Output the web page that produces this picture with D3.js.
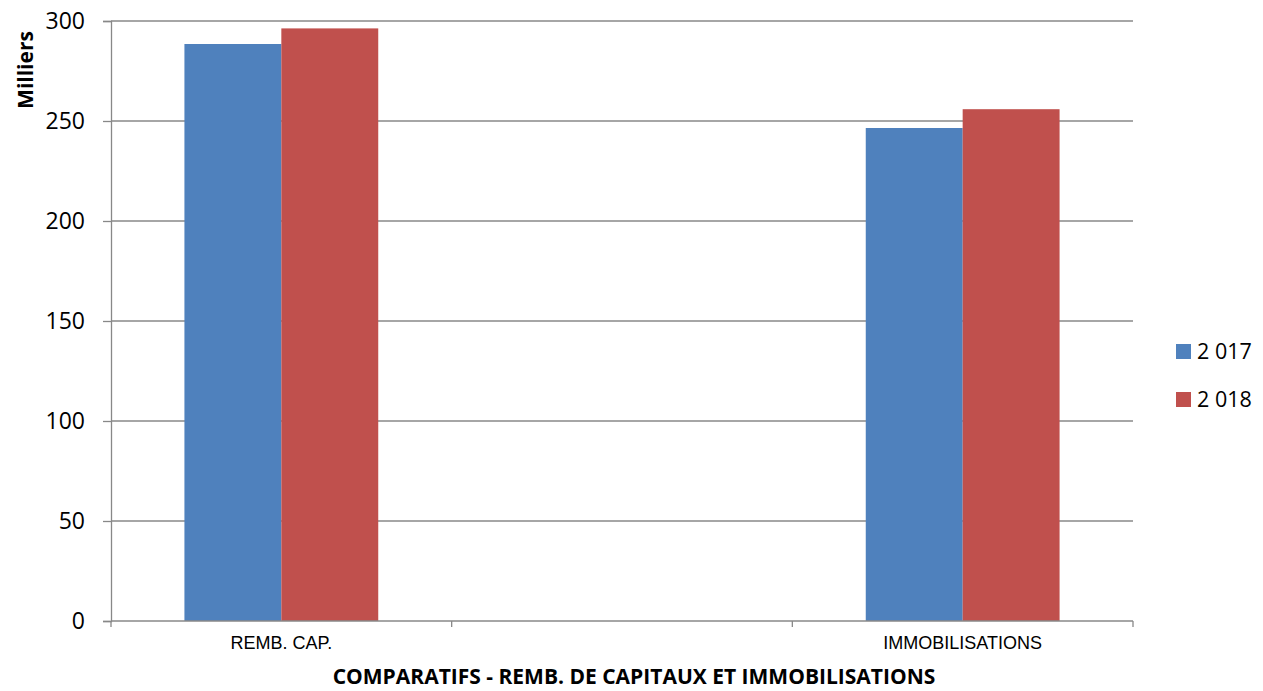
<!DOCTYPE html>
<html>
<head>
<meta charset="utf-8">
<script src="https://cdn.jsdelivr.net/npm/d3@7"></script>
<style>
  body { margin: 0; background: #fff; }
</style>
</head>
<body>
<div id="chart"></div>
<script>
// chart data
const categories = ["REMB. CAP.", "", "IMMOBILISATIONS"];
const seriesNames = ["2 017", "2 018"];
const values2017 = [288.5, null, 246.5];
const values2018 = [296.3, null, 255.9];
const yTicks = [0, 50, 100, 150, 200, 250, 300];
const colors = ["#4f81bd", "#c0504d"];

const W = 1263, H = 691;
const margin = {top: 21, right: 130, bottom: 70, left: 111};
const width = 1133 - margin.left;
const height = 621 - margin.top;
const font = "'Open Sans', 'Noto Sans', sans-serif";

const svg = d3.select("#chart").append("svg")
  .attr("width", W)
  .attr("height", H);

const g = svg.append("g")
  .attr("transform", `translate(${margin.left}, ${margin.top})`);

const x = d3.scaleBand()
  .domain(d3.range(categories.length))
  .range([0, width])
  .paddingInner(0)
  .paddingOuter(0);

const xInner = d3.scaleBand()
  .domain([0, 1])
  .range([0, x.bandwidth()])
  .paddingOuter(0.7577)
  .paddingInner(0);

const y = d3.scaleLinear()
  .domain([0, 300])
  .range([height, 0]);

// gridlines
g.append("g")
  .selectAll("line")
  .data(yTicks.filter(d => d > 0))
  .join("line")
  .attr("x1", 0)
  .attr("x2", width)
  .attr("y1", d => y(d))
  .attr("y2", d => y(d))
  .attr("stroke", "#888")
  .attr("stroke-width", 1.3);

// bars
const series = [values2017, values2018];
series.forEach((vals, si) => {
  g.append("g")
    .selectAll("rect")
    .data(vals.map((v, i) => ({v, i})).filter(d => d.v != null))
    .join("rect")
    .attr("x", d => x(d.i) + xInner(si))
    .attr("width", xInner.bandwidth())
    .attr("y", d => y(d.v))
    .attr("height", d => height - y(d.v))
    .attr("fill", colors[si]);
});

// y axis
const yAxis = g.append("g")
  .call(d3.axisLeft(y).tickValues(yTicks).tickSize(8).tickPadding(18));
yAxis.select(".domain").attr("stroke", "#888").attr("stroke-width", 1.3);
yAxis.selectAll(".tick line").attr("stroke", "#888").attr("stroke-width", 1.3);
yAxis.selectAll("text")
  .attr("font-family", font)
  .attr("font-size", 23)
  .attr("fill", "#000");

// x axis
const xAxisG = g.append("g").attr("transform", `translate(0, ${height})`);
xAxisG.append("line")
  .attr("x1", 0).attr("x2", width)
  .attr("stroke", "#888").attr("stroke-width", 1.3);
xAxisG.selectAll(".xtick")
  .data(d3.range(categories.length + 1))
  .join("line")
  .attr("x1", d => d * x.step())
  .attr("x2", d => d * x.step())
  .attr("y1", 0).attr("y2", 6)
  .attr("stroke", "#888").attr("stroke-width", 1.3);
xAxisG.selectAll(".xlabel")
  .data(categories)
  .join("text")
  .attr("x", (d, i) => x(i) + x.bandwidth() / 2)
  .attr("y", 28)
  .attr("text-anchor", "middle")
  .attr("font-family", "'Liberation Sans', Arial, sans-serif")
  .attr("font-size", 18)
  .attr("fill", "#000")
  .text(d => d);

// axis titles
svg.append("text")
  .attr("x", 634)
  .attr("y", 684)
  .attr("text-anchor", "middle")
  .attr("font-family", font)
  .attr("font-weight", "bold")
  .attr("font-size", 21)
  .text("COMPARATIFS - REMB. DE CAPITAUX ET IMMOBILISATIONS");

svg.append("text")
  .attr("transform", "translate(33, 70) rotate(-90)")
  .attr("text-anchor", "middle")
  .attr("font-family", font)
  .attr("font-weight", "bold")
  .attr("font-size", 21)
  .text("Milliers");

// legend
const legend = svg.append("g").attr("transform", "translate(1176, 344)");
seriesNames.forEach((name, i) => {
  const row = legend.append("g").attr("transform", `translate(0, ${i * 48})`);
  row.append("rect")
    .attr("width", 15).attr("height", 15)
    .attr("fill", colors[i]);
  row.append("text")
    .attr("x", 21).attr("y", 15)
    .attr("font-family", font)
    .attr("font-size", 21.5)
    .text(name);
});
</script>
</body>
</html>
